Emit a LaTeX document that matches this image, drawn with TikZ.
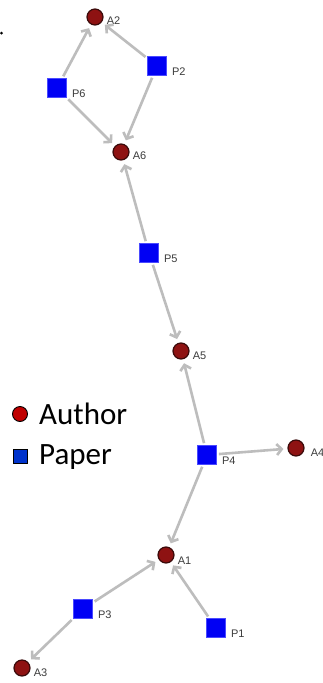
\documentclass[tikz,border=0pt]{standalone}
\usepackage{fontspec}
\setmainfont{Liberation Sans}
\newfontfamily\legendfont{Carlito}
\usetikzlibrary{arrows.meta}
\definecolor{authred}{HTML}{8E1212}
\definecolor{authborder}{HTML}{3A0A0A}
\definecolor{paperblue}{HTML}{0000F4}
\definecolor{paperborder}{HTML}{4A4AFF}
\definecolor{edgegray}{HTML}{BDBDBD}
\definecolor{lblgray}{HTML}{3C3C3C}
\definecolor{legred}{HTML}{C00000}
\definecolor{legblue}{HTML}{0033CC}
\tikzset{
  lbl/.style={font=\fontsize{11}{12}\selectfont, text=lblgray, inner sep=0pt},
  author/.style={circle, fill=authred, draw=authborder, line width=1.2pt, minimum size=16pt, inner sep=0pt},
  paper/.style={rectangle, fill=paperblue, draw=paperborder, line width=0.8pt, minimum size=19pt, inner sep=0pt},
  edge/.style={draw=edgegray, line width=2.6pt, -{Straight Barb[length=5pt,width=11pt]}, shorten >=4pt, shorten <=2pt},
  legauthor/.style={circle, fill=legred, draw=black, line width=0.9pt, minimum size=15pt, inner sep=0pt},
  legpaper/.style={rectangle, fill=legblue, draw=black, line width=0.9pt, minimum size=14pt, inner sep=0pt},
  legtext/.style={font=\legendfont\fontsize{31}{34}\selectfont, anchor=west, inner sep=0pt}
}
\begin{document}
\begin{tikzpicture}[x=1pt,y=-1pt]
\clip (0,0) rectangle (322,683);
\useasboundingbox (0,0) rectangle (322,683);
\fill[white] (0,0) rectangle (322,683);
% nodes
\node[author, label={[lbl, xshift=3pt, yshift=-4pt]east:A2}] (A2) at (95,17) {};
\node[paper,  label={[lbl, xshift=5pt, yshift=-6pt]east:P2}] (P2) at (157,66) {};
\node[paper,  label={[lbl, xshift=5pt, yshift=-6pt]east:P6}] (P6) at (57,88) {};
\node[author, label={[lbl, xshift=3pt, yshift=-4pt]east:A6}] (A6) at (121,152) {};
\node[paper,  label={[lbl, xshift=5pt, yshift=-6pt]east:P5}] (P5) at (149,253) {};
\node[author, label={[lbl, xshift=3pt, yshift=-5pt]east:A5}] (A5) at (181,351) {};
\node[paper,  label={[lbl, xshift=5pt, yshift=-6pt]east:P4}] (P4) at (207,455) {};
\node[author, label={[lbl, xshift=6pt, yshift=-5pt]east:A4}] (A4) at (296,448) {};
\node[author, label={[lbl, xshift=3pt, yshift=-6pt]east:A1}] (A1) at (166,555) {};
\node[paper,  label={[lbl, xshift=5pt, yshift=-6pt]east:P3}] (P3) at (83,609) {};
\node[paper,  label={[lbl, xshift=5pt, yshift=-6pt]east:P1}] (P1) at (216,628) {};
\node[author, label={[lbl, xshift=3pt, yshift=-5pt]east:A3}] (A3) at (22,668) {};
% stray dot
\fill[black] (1.5,33) circle (1.5pt);
% edges
\path[edge] (P6) -- (A2);
\path[edge] (P2) -- (A2);
\path[edge] (P6) -- (A6);
\path[edge] (P2) -- (A6);
\path[edge] (P5) -- (A6);
\path[edge] (P5) -- (A5);
\path[edge] (P4) -- (A5);
\path[edge] (P4) -- (A4);
\path[edge] (P4) -- (A1);
\path[edge] (P3) -- (A1);
\path[edge] (P1) -- (A1);
\path[edge] (P3) -- (A3);
% legend
\node[legauthor] (LA) at (20,414) {};
\node[legtext] (LAt) at (39,414) {Author};
\node[legpaper] (LP) at (20,456) {};
\node[legtext] (LPt) at (39,457) {Paper};
\end{tikzpicture}
\end{document}
